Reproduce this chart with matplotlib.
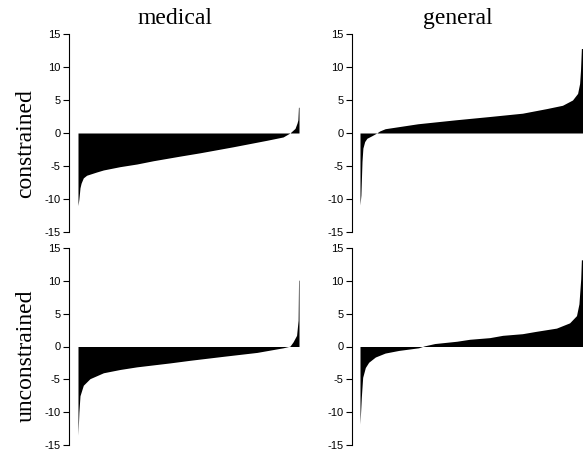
import matplotlib
matplotlib.use("Agg")
import matplotlib.pyplot as plt

plt.rcParams["axes.unicode_minus"] = False

# sorted values (rank fraction -> value)
med_con_rank = [0, 0.004, 0.007, 0.009, 0.014, 0.024, 0.039, 0.085, 0.115, 0.19, 0.266,
                0.341, 0.462, 0.552, 0.70, 0.855, 0.928, 0.959, 0.982, 0.991, 0.995,
                0.9975, 1.0]
med_con_val = [-11.0, -10.0, -9.0, -8.3, -7.6, -6.8, -6.4, -5.9, -5.6, -5.1, -4.7,
               -4.2, -3.5, -3.0, -2.1, -1.1, -0.6, 0.0, 0.7, 1.5, 2.0,
               3.9, 3.9]

gen_con_rank = [0, 0.004, 0.009, 0.013, 0.021, 0.031, 0.054, 0.075, 0.088, 0.113, 0.26,
                0.43, 0.583, 0.73, 0.839, 0.91, 0.955, 0.978, 0.987, 0.991, 0.995, 1.0]
gen_con_val = [-10.9, -9.4, -4.3, -2.3, -1.3, -0.8, -0.4, 0.0, 0.3, 0.65, 1.4,
               2.0, 2.5, 3.0, 3.7, 4.2, 5.0, 6.0, 7.5, 9.5, 12.8, 12.8]

med_unc_rank = [0, 0.004, 0.009, 0.024, 0.054, 0.115, 0.19, 0.266, 0.416, 0.507, 0.656,
                0.81, 0.928, 0.959, 0.973, 0.989, 0.996, 0.998, 1.0]
med_unc_val = [-13.5, -10.0, -7.5, -5.9, -4.9, -4.0, -3.5, -3.1, -2.5, -2.1, -1.5,
               -0.9, -0.2, 0.05, 0.7, 1.7, 4.0, 10.1, 10.1]

gen_unc_rank = [0, 0.006, 0.012, 0.024, 0.039, 0.069, 0.113, 0.174, 0.263, 0.29, 0.336,
                0.435, 0.493, 0.583, 0.641, 0.73, 0.79, 0.883, 0.942, 0.973, 0.984,
                0.992, 0.995, 1.0]
gen_unc_val = [-11.8, -7.7, -4.7, -3.2, -2.4, -1.6, -1.0, -0.6, -0.2, 0.1, 0.45,
               0.8, 1.1, 1.35, 1.7, 1.95, 2.3, 2.8, 3.6, 4.7, 6.5,
               10.3, 13.2, 13.2]

col_titles = ["medical", "general"]
row_titles = ["constrained", "unconstrained"]
yticks = [-15, -10, -5, 0, 5, 10, 15]

W, H = 586, 450
fig = plt.figure(figsize=(W / 100, H / 100), dpi=100)

def panel(rank, val, x_axis, x0, x1, y_top, y_bot):
    ax = fig.add_axes([x_axis / W, 1 - y_bot / H, (x1 - x_axis) / W, (y_bot - y_top) / H])
    ax.fill_between(rank, 0, val, color="black", linewidth=0)
    ax.set_xlim(-(x0 - x_axis) / (x1 - x0), 1)
    ax.set_ylim(-15, 15)
    for s in ["top", "right", "bottom"]:
        ax.spines[s].set_visible(False)
    ax.spines["left"].set_linewidth(0.8)
    ax.set_xticks([])
    ax.set_yticks(yticks)
    ax.tick_params(axis="y", length=4.5, width=0.8, pad=1.5, labelsize=8)
    for lab in ax.get_yticklabels():
        lab.set_family("Liberation Sans")
    return ax

panel(med_con_rank, med_con_val, 69, 78, 299, 34, 232)
panel(gen_con_rank, gen_con_val, 352, 360, 582.5, 34, 232)
panel(med_unc_rank, med_unc_val, 69, 78, 299, 248, 445)
panel(gen_unc_rank, gen_unc_val, 352, 360, 582.5, 248, 445)

serif = dict(family="Liberation Serif", fontsize=17)
fig.text(175 / W, 1 - 24 / H, col_titles[0], ha="center", va="baseline", **serif)
fig.text(457.5 / W, 1 - 24 / H, col_titles[1], ha="center", va="baseline", **serif)
fig.text(26 / W, 1 - 144 / H, row_titles[0], ha="center", va="center", rotation=90, **serif)
fig.text(26 / W, 1 - 356 / H, row_titles[1], ha="center", va="center", rotation=90, **serif)

fig.savefig("out.png", dpi=100)
